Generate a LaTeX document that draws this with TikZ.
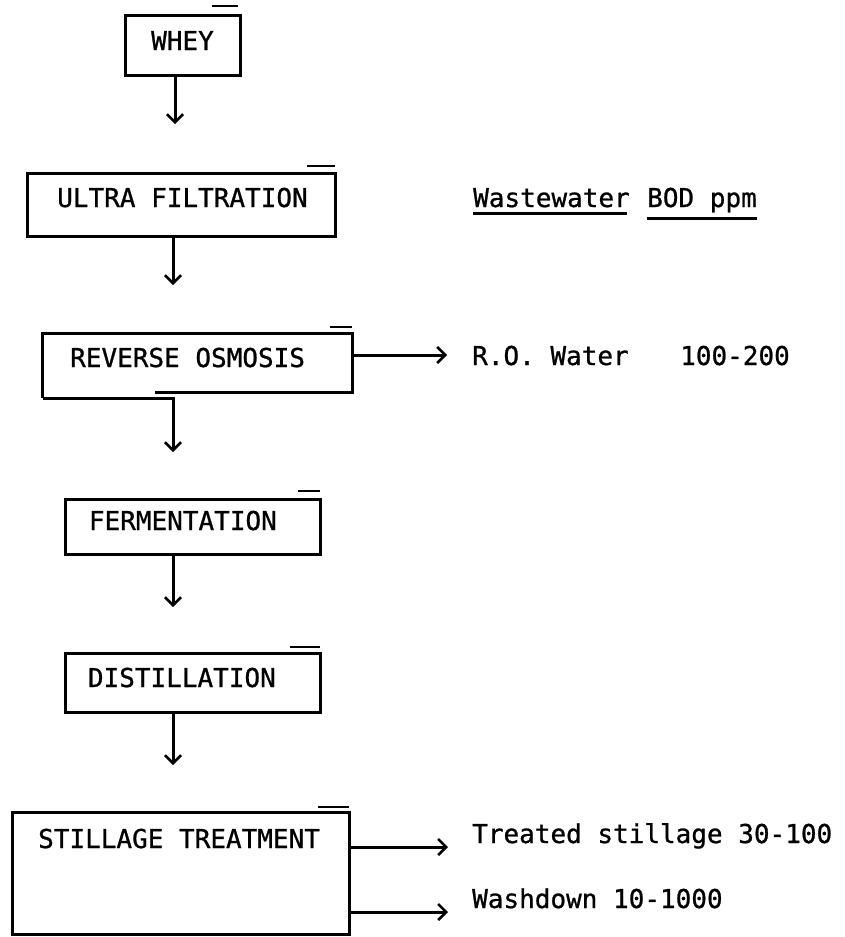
\documentclass[tikz,border=0pt]{standalone}
\usepackage{fontspec}
\newfontfamily\typer[FakeBold=0.9]{DejaVu Sans Mono}
\usetikzlibrary{arrows.meta}
\begin{document}
\begin{tikzpicture}[x=1pt,y=-1pt,
  txt/.style={font=\typer\fontsize{26}{30}\selectfont, inner sep=0pt},
  stage/.style={draw, line width=3pt, inner sep=0pt},
  frame/.style={line width=3pt},
  flow/.style={line width=3pt, -{Straight Barb[length=8pt,width=16pt,line width=2.6pt]}},
  tick/.style={line width=2.8pt},
  uline/.style={line width=2.6pt}]
\useasboundingbox (0,0) rectangle (845,937);

% process stages
\node[stage, minimum width=115pt, minimum height=60pt] (whey) at (182.5,45) {};
\node[stage, minimum width=308pt, minimum height=63pt] (uf) at (181,204.5) {};
\node[minimum width=309pt, minimum height=58pt, inner sep=0pt] (ro) at (197.5,363) {};
\node[stage, minimum width=255pt, minimum height=55pt] (ferm) at (192.5,526.5) {};
\node[stage, minimum width=255pt, minimum height=59pt] (dist) at (192.5,682.5) {};
\node[minimum width=336pt, minimum height=121pt, inner sep=0pt] (still) at (181,873.5) {};

% reverse osmosis outline with its stepped bottom edge
\draw[frame] (ro.south west) ++(0,6) -- (ro.north west) -- (ro.north east)
  -- (ro.south east) -- ++(-197,0);
\draw[frame] (ro.south west) ++(0,6) -- ++(132,0);

% stillage treatment outline, right side broken between the two outlets
\draw[frame] (still.east) ++(0,15) -- (still.north east) -- (still.north west)
  -- (still.south west) -- (still.south east) -- ++(0,-45);

% short strokes over the top right corners
\draw[tick] (212,6) -- (238,6);
\draw[tick] (307,166) -- (335,166);
\draw[tick] (330,327) -- (352,327);
\draw[tick] (298,491) -- (320,491);
\draw[tick] (290,647) -- (320,647);
\draw[tick] (318,807) -- (349,807);

% stage labels
\node[txt, anchor=base] (wheyT) at (182.5,50) {WHEY};
\node[txt, anchor=base] (ufT) at (182.5,207) {ULTRA FILTRATION};
\node[txt, anchor=base west] (roT) at (70,367) {REVERSE OSMOSIS};
\node[txt, anchor=base east] (fermT) at (277,530) {FERMENTATION};
\node[txt, anchor=base east] (distT) at (276,687) {DISTILLATION};
\node[txt, anchor=base west] (stillT) at (38,848) {STILLAGE TREATMENT};

% main flow
\coordinate (t1) at (175,124);
\coordinate (t2) at (173,285);
\coordinate (t3) at (173,452);
\coordinate (t4) at (173,607);
\coordinate (t5) at (173,765);
\draw[flow] (t1 |- whey.south) -- (t1);
\draw[flow] (t2 |- uf.south) -- (t2);
\draw[flow] (t3 |- ro.south) ++(0,6) -- (t3);
\draw[flow] (t4 |- ferm.south) -- (t4);
\draw[flow] (t5 |- dist.south) -- (t5);

% wastewater table
\node[txt, anchor=base west] (hWW) at (473,207) {Wastewater};
\node[txt, anchor=base west] (hBOD) at (647,207) {BOD ppm};
\draw[uline] (hWW.south west) ++(0,6) -- ++(154,0);
\draw[uline] (hBOD.south west) ++(0,6) -- ++(110,0);

\node[txt, anchor=base west] (roW) at (472,365) {R.O. Water};
\node[txt, anchor=base west] (roV) at (680,365) {100-200};
\node[txt, anchor=base west] (tsW) at (472,843) {Treated stillage 30-100};
\node[txt, anchor=base west] (wdW) at (472,908) {Washdown 10-1000};

% side streams
\coordinate (s1) at (447,355);
\coordinate (s2) at (448,847);
\coordinate (s3) at (448,912);
\draw[flow] (ro.east |- s1) -- (s1);
\draw[flow] (still.east |- s2) -- (s2);
\draw[flow] (still.east |- s3) -- (s3);
\end{tikzpicture}
\end{document}
